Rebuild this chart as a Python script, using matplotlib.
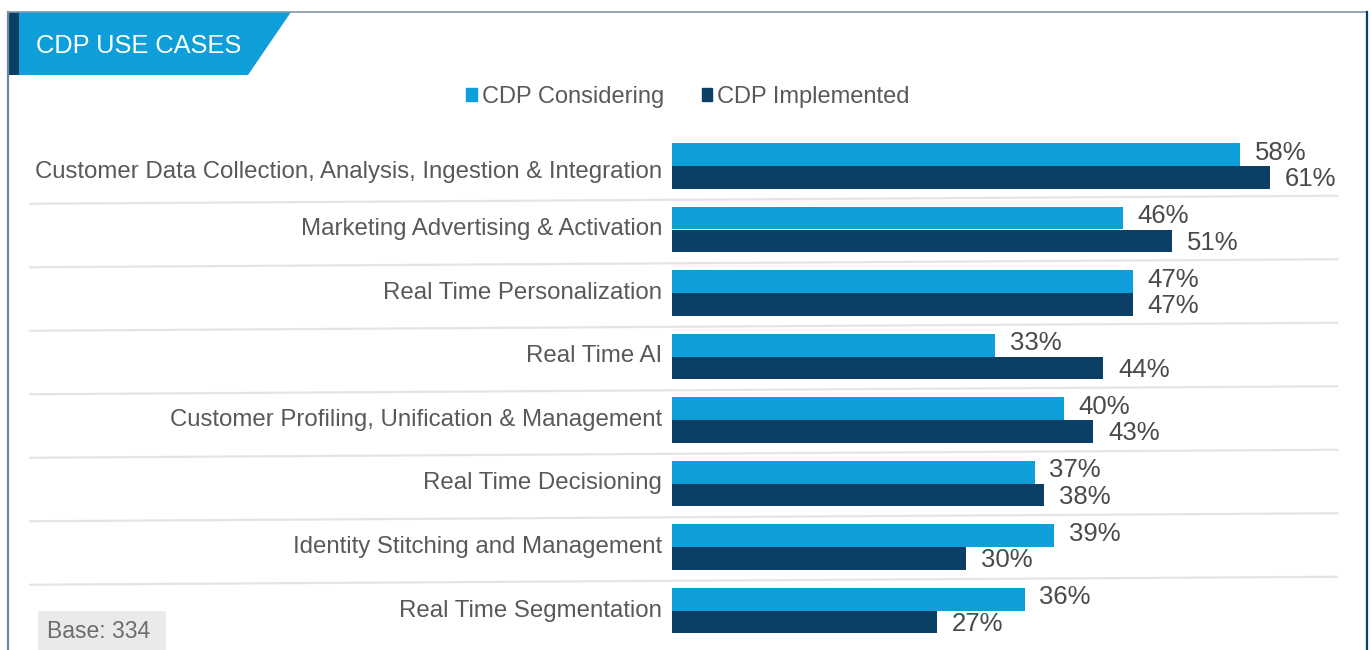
import numpy as np
import matplotlib.pyplot as plt
from matplotlib.patches import Rectangle, Polygon, Patch
from matplotlib.lines import Line2D

# data
categories = [
    "Customer Data Collection, Analysis, Ingestion & Integration",
    "Marketing Advertising & Activation",
    "Real Time Personalization",
    "Real Time AI",
    "Customer Profiling, Unification & Management",
    "Real Time Decisioning",
    "Identity Stitching and Management",
    "Real Time Segmentation",
]
considering = [58, 46, 47, 33, 40, 37, 39, 36]
implemented = [61, 51, 47, 44, 43, 38, 30, 27]
series_names = ["CDP Considering", "CDP Implemented"]

light_blue = "#0E9FDB"
navy = "#0B3F66"
text_grey = "#595959"
W, H = 1371, 650

plt.rcParams['font.family'] = ['Liberation Sans', 'DejaVu Sans']

fig = plt.figure(figsize=(W / 100, H / 100), dpi=100)

def fx(px):
    return px / W

def fy(py):
    return 1 - py / H

# frame lines
fig.add_artist(Line2D([fx(8), fx(8)], [fy(12), fy(650)], color="#6F8AA0", lw=1.6))
fig.add_artist(Line2D([fx(8), fx(1367)], [fy(12), fy(12)], color="#8096AA", lw=1.2))
fig.add_artist(Line2D([fx(1367), fx(1367)], [fy(12), fy(650)], color=navy, lw=1.6))

# title banner
fig.add_artist(Polygon([[fx(19), fy(12)], [fx(291), fy(12)], [fx(248), fy(75)], [fx(19), fy(75)]],
                       closed=True, facecolor=light_blue, edgecolor="none"))
fig.add_artist(Rectangle((fx(8), fy(75)), fx(11), fy(12) - fy(75), facecolor=navy, edgecolor="none"))
fig.text(fx(36), fy(46), "CDP USE CASES", color="white", fontsize=18.3, va="center", ha="left")

# bars axis
n = len(categories)
row_px = 63.5
top_px = 166 - row_px / 2
ax = fig.add_axes([fx(672), fy(top_px + row_px * n), fx(686), (row_px * n) / H])
y = np.arange(n)
h = 0.36
b1 = ax.barh(y - h / 2, considering, height=h, color=light_blue, label=series_names[0])
b2 = ax.barh(y + h / 2, implemented, height=h, color=navy, label=series_names[1])
ax.set_xlim(0, 70)
ax.set_ylim(n - 0.5, -0.5)
ax.axis("off")

for i in range(n):
    ax.text(considering[i] + 1.5, y[i] - h / 2 - 0.03, f"{considering[i]}%",
            ha="left", va="center", fontsize=18.5, color="#4A4A4A")
    ax.text(implemented[i] + 1.5, y[i] + h / 2 + 0.03, f"{implemented[i]}%",
            ha="left", va="center", fontsize=18.5, color="#4A4A4A")

for i, cat in enumerate(categories):
    dy = 0.1 if i == 0 else 0.0
    ax.text(-1.0, i + dy, cat, ha="right", va="center", fontsize=17.3, color=text_grey)

# separator lines (slightly tilted as in the original)
for i in range(n - 1):
    yl = top_px + row_px * (i + 1) + 6
    fig.add_artist(Line2D([fx(30), fx(1337)], [fy(yl), fy(yl - 8)], color="#E4E4E4", lw=1.6))

# legend
fig.legend(handles=[Patch(color=light_blue), Patch(color=navy)], labels=series_names,
           loc="center", bbox_to_anchor=(fx(688), fy(97)), ncol=2, frameon=False,
           handlelength=0.45, handleheight=0.45, handletextpad=0.2, columnspacing=1.6,
           fontsize=17, labelcolor=text_grey)

# base note
fig.add_artist(Rectangle((fx(38), 0), fx(128), fy(611), facecolor="#E9EBEB", edgecolor="none"))
fig.text(fx(47), fy(632), "Base: 334", fontsize=16.5, color="#6D6D6D", va="center", ha="left")

fig.savefig("out.png", dpi=100)
